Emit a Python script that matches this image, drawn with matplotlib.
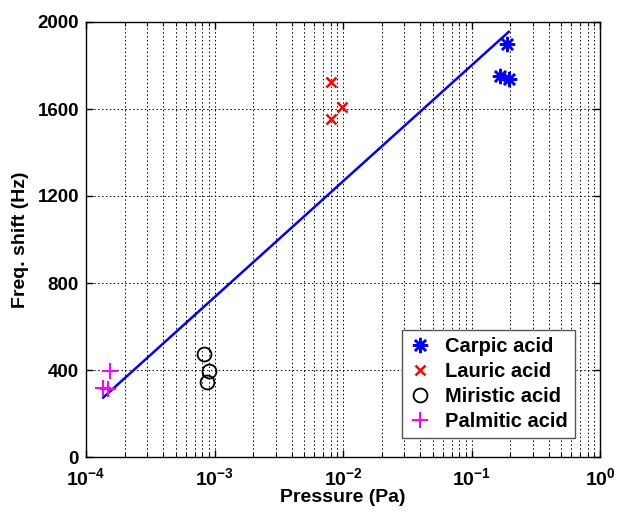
import matplotlib
matplotlib.use("Agg")
import matplotlib.pyplot as plt
import numpy as np

plt.rcParams['font.family'] = ['Liberation Sans', 'DejaVu Sans']
plt.rcParams['font.weight'] = 'bold'
plt.rcParams['mathtext.fontset'] = 'custom'
plt.rcParams['mathtext.rm'] = 'Liberation Sans:bold'
plt.rcParams['mathtext.it'] = 'Liberation Sans:bold'
plt.rcParams['mathtext.bf'] = 'Liberation Sans:bold'

# Data
carpic_x = [0.19, 0.167, 0.197]
carpic_y = [1897, 1752, 1740]
lauric_x = [0.0080, 0.0098, 0.0081]
lauric_y = [1723, 1608, 1555]
miristic_x = [8.3e-4, 9.1e-4, 8.7e-4]
miristic_y = [472, 397, 343]
palmitic_x = [1.54e-4, 1.36e-4, 1.49e-4]
palmitic_y = [394, 316, 313]
fit_x = [1.36e-4, 0.195]
fit_y = [273, 1955]

xticks = [1e-4, 1e-3, 1e-2, 1e-1, 1]
xticklabels = [r'$10^{-4}$', r'$10^{-3}$', r'$10^{-2}$', r'$10^{-1}$', r'$10^{0}$']
yticks = [0, 400, 800, 1200, 1600, 2000]

fig = plt.figure(figsize=(6.17, 5.11), dpi=100)
ax = fig.add_axes([86/617, 1 - 457/511, (600 - 86)/617, (457 - 22)/511])

ax.set_xscale('log')
ax.plot(fit_x, fit_y, color='#0000ff', lw=1.8, zorder=3)
ax.plot(carpic_x, carpic_y, ls='none', marker=(8, 2, 0), ms=11, mew=1.8,
        color='#0000ff', label='Carpic acid', zorder=4)
ax.plot(lauric_x, lauric_y, ls='none', marker='x', ms=7, mew=1.8,
        color='#ff0000', label='Lauric acid', zorder=4)
ax.plot(miristic_x, miristic_y, ls='none', marker='o', ms=10, mew=1.3,
        mfc='none', color='black', label='Miristic acid', zorder=4)
ax.plot(palmitic_x, palmitic_y, ls='none', marker='+', ms=11, mew=1.5,
        color='#ff00ff', label='Palmitic acid', zorder=4)

ax.set_xlim(1e-4, 1)
ax.set_ylim(0, 2000)
ax.set_xticks(xticks)
ax.set_xticklabels(xticklabels, fontsize=14)
ax.set_yticks(yticks)
ax.set_yticklabels([str(v) for v in yticks], fontsize=13.5, fontweight='bold')

ax.grid(True, which='major', axis='both', color='black', ls=(0, (1.5, 2.5)), lw=0.7)
ax.grid(True, which='minor', axis='x', color='black', ls=(0, (1.5, 2.5)), lw=0.7)
ax.tick_params(which='both', direction='in', top=True, right=True)
ax.tick_params(which='major', length=5, width=1)
ax.tick_params(which='minor', length=3, width=0.8)
ax.tick_params(axis='x', pad=7)
ax.tick_params(axis='y', pad=5)
ax.set_axisbelow(True)
for s in ax.spines.values():
    s.set_linewidth(1.0)

ax.set_xlabel('Pressure (Pa)', fontsize=14, fontweight='bold', labelpad=0)
ax.set_ylabel('Freq. shift (Hz)', fontsize=14, fontweight='bold', labelpad=6)

leg = ax.legend(loc='lower right', bbox_to_anchor=(0.951, 0.044), fontsize=14.5,
                frameon=True, fancybox=False, edgecolor='#555555', framealpha=1,
                handlelength=1.1, borderpad=0.35, labelspacing=0.3, handletextpad=0.7,
                borderaxespad=0)
leg.get_frame().set_linewidth(1.0)
for t in leg.get_texts():
    t.set_fontweight('bold')

fig.savefig('out.png', dpi=100)
